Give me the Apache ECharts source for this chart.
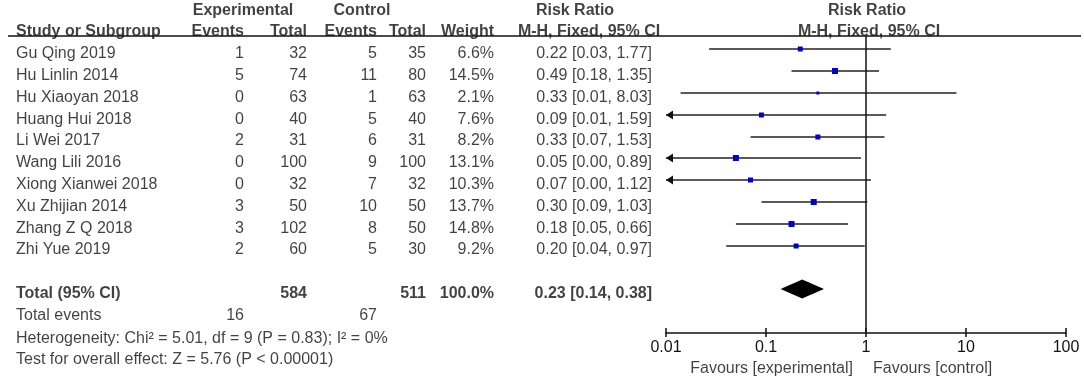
<!DOCTYPE html>
<html>
<head>
<meta charset="utf-8">
<script src="https://cdn.jsdelivr.net/npm/echarts@6/dist/echarts.min.js"></script>
<style>
  html, body { margin: 0; padding: 0; background: #fff; }
  #forest { width: 1084px; height: 381px; }
</style>
</head>
<body>
<div id="forest"></div>
<script>
// study rows
var studies = ["Gu Qing 2019", "Hu Linlin 2014", "Hu Xiaoyan 2018", "Huang Hui 2018", "Li Wei 2017",
  "Wang Lili 2016", "Xiong Xianwei 2018", "Xu Zhijian 2014", "Zhang Z Q 2018", "Zhi Yue 2019"];
var expEvents = [1, 5, 0, 0, 2, 0, 0, 3, 3, 2];
var expTotal = [32, 74, 63, 40, 31, 100, 32, 50, 102, 60];
var ctlEvents = [5, 11, 1, 5, 6, 9, 7, 10, 8, 5];
var ctlTotal = [35, 80, 63, 40, 31, 100, 32, 50, 50, 30];
var weights = [6.6, 14.5, 2.1, 7.6, 8.2, 13.1, 10.3, 13.7, 14.8, 9.2];
var riskRatio = [0.22, 0.49, 0.33, 0.09, 0.33, 0.05, 0.07, 0.30, 0.18, 0.20];
var ciLow = [0.03, 0.18, 0.01, 0.01, 0.07, 0.00, 0.00, 0.09, 0.05, 0.04];   // as printed
var ciHigh = [1.77, 1.35, 8.03, 1.59, 1.53, 0.89, 1.12, 1.03, 0.66, 0.97];
var plotLow = [0.027, 0.18, 0.014, 0.006, 0.07, 0.003, 0.004, 0.09, 0.05, 0.04];

// pooled result
var totalExp = 584, totalCtl = 511;
var eventsExp = 16, eventsCtl = 67;
var pooled = [0.23, 0.14, 0.38]; // estimate, low, high

var tickLabels = ["0.01", "0.1", "1", "10", "100"];

// layout: column anchors (px) and row units
var ROW = 21.8, ROW0 = 49.3, TXT = 4.5;
var col = { study: 16, expEv: 244, expTot: 307, ctlEv: 377, ctlTot: 426, weight: 494, ci: 652 };
var font = "'Liberation Sans', Arial, sans-serif";
var ink = "#111";

function fmt(v) { return v.toFixed(2); }

var leftCells = [], rightCells = [], centerCells = [];
var leftBold = [], rightBold = [], centerBold = [];

studies.forEach(function (s, i) {
  leftCells.push([col.study, i, s]);
  rightCells.push([col.expEv, i, String(expEvents[i])]);
  rightCells.push([col.expTot, i, String(expTotal[i])]);
  rightCells.push([col.ctlEv, i, String(ctlEvents[i])]);
  rightCells.push([col.ctlTot, i, String(ctlTotal[i])]);
  rightCells.push([col.weight, i, weights[i].toFixed(1) + "%"]);
  rightCells.push([col.ci, i, fmt(riskRatio[i]) + " [" + fmt(ciLow[i]) + ", " + fmt(ciHigh[i]) + "]"]);
});

// headers
centerBold.push([243, -2, "Experimental"], [362, -2, "Control"], [575, -2, "Risk Ratio"], [867, -2, "Risk Ratio"]);
leftBold.push([col.study, -1, "Study or Subgroup"]);
rightBold.push([col.expEv, -1, "Events"], [col.expTot, -1, "Total"], [col.ctlEv, -1, "Events"],
  [col.ctlTot, -1, "Total"], [col.weight, -1, "Weight"]);
centerBold.push([589, -1, "M-H, Fixed, 95% CI"], [869, -1, "M-H, Fixed, 95% CI"]);

// totals
leftBold.push([col.study, 11, "Total (95% CI)"]);
rightBold.push([col.expTot, 11, String(totalExp)], [col.ctlTot, 11, String(totalCtl)],
  [col.weight, 11, "100.0%"],
  [col.ci, 11, fmt(pooled[0]) + " [" + fmt(pooled[1]) + ", " + fmt(pooled[2]) + "]"]);
leftCells.push([col.study, 12, "Total events"]);
rightCells.push([col.expEv, 12, String(eventsExp)], [col.ctlEv, 12, String(eventsCtl)]);
leftCells.push([col.study, 13.05, "Heterogeneity: Chi\u00b2 = 5.01, df = 9 (P = 0.83); I\u00b2 = 0%"]);
leftCells.push([col.study, 14.05, "Test for overall effect: Z = 5.76 (P < 0.00001)"]);
rightCells.push([853, 14.45, "Favours [experimental]"]);
leftCells.push([873, 14.45, "Favours [control]"]);

function textSeries(data, align, weight) {
  return {
    type: "scatter", xAxisIndex: 0, yAxisIndex: 0, symbolSize: 0, silent: true,
    data: data,
    label: {
      show: true, position: "inside", align: align, verticalAlign: "middle", offset: [0, TXT],
      formatter: function (p) { return p.data[2]; },
      fontSize: 16, fontWeight: weight, color: ink, fontFamily: font
    },
    emphasis: { disabled: true }
  };
}

var studyData = studies.map(function (s, i) {
  return [plotLow[i], ciHigh[i], riskRatio[i], i, weights[i]];
});

var option = {
  animation: false,
  backgroundColor: "#fff",
  grid: [
    { left: 8, right: 3, top: 0, bottom: 0 },
    { left: 666, width: 400, top: 36, bottom: 48 }
  ],
  xAxis: [
    { gridIndex: 0, type: "value", min: 8, max: 1081, show: false },
    {
      gridIndex: 1, type: "log", logBase: 10, min: 0.01, max: 100, position: "bottom",
      axisLine: { onZero: false, lineStyle: { color: ink, width: 1.5 } },
      axisTick: { length: 4, lineStyle: { color: ink, width: 1.5 } },
      axisLabel: {
        margin: 7, fontSize: 16, color: ink, fontFamily: font,
        formatter: function (v) { return tickLabels[Math.round(Math.log10(v)) + 2]; }
      },
      splitLine: { show: false }
    },
    {
      gridIndex: 1, type: "log", logBase: 10, min: 0.01, max: 100, position: "bottom",
      axisLine: { show: false, onZero: false },
      axisTick: { inside: true, length: 5, lineStyle: { color: ink, width: 1.5 } },
      axisLabel: { show: false },
      splitLine: { show: false }
    }
  ],
  yAxis: [
    { gridIndex: 0, type: "value", inverse: true, min: -ROW0 / ROW, max: (381 - ROW0) / ROW, show: false },
    { gridIndex: 1, type: "value", inverse: true, min: (36 - ROW0) / ROW, max: (333 - ROW0) / ROW, show: false }
  ],
  series: [
    textSeries(leftCells, "left", "normal"),
    textSeries(rightCells, "right", "normal"),
    textSeries(centerCells, "center", "normal"),
    textSeries(leftBold, "left", "bold"),
    textSeries(rightBold, "right", "bold"),
    textSeries(centerBold, "center", "bold"),
    {
      // header rule
      type: "scatter", xAxisIndex: 0, yAxisIndex: 0, data: [], silent: true,
      markLine: {
        symbol: "none", silent: true, label: { show: false },
        lineStyle: { color: ink, width: 1.5, type: "solid" },
        data: [{ yAxis: (36 - ROW0) / ROW }]
      }
    },
    {
      type: "custom", xAxisIndex: 1, yAxisIndex: 1, silent: true,
      data: studyData,
      encode: { x: [0, 1, 2], y: 3 },
      renderItem: function (params, api) {
        var lo = api.value(0), hi = api.value(1), est = api.value(2), row = api.value(3), w = api.value(4);
        var pL = api.coord([Math.max(lo, 0.01), row]);
        var pH = api.coord([hi, row]);
        var pE = api.coord([est, row]);
        var y = Math.round(pL[1]);
        var kids = [{
          type: "line",
          shape: { x1: pL[0], y1: y, x2: pH[0], y2: y },
          style: { stroke: "#222", lineWidth: 1.5 }
        }];
        if (lo < 0.01) {
          kids.push({
            type: "polygon",
            shape: { points: [[pL[0], y], [pL[0] + 7, y - 4.5], [pL[0] + 7, y + 4.5]] },
            style: { fill: "#111" }
          });
        }
        var s = Math.round(2 + Math.sqrt(w));
        kids.push({
          type: "rect",
          shape: { x: pE[0] - s / 2, y: y - s / 2, width: s, height: s },
          style: { fill: "#0000cc" }
        });
        return { type: "group", children: kids };
      },
      markLine: {
        symbol: "none", silent: true, label: { show: false },
        lineStyle: { color: ink, width: 1.5, type: "solid" },
        data: [{ xAxis: 1 }]
      }
    },
    {
      type: "custom", xAxisIndex: 1, yAxisIndex: 1, silent: true,
      data: [[pooled[1], pooled[2], pooled[0], 11]],
      encode: { x: [0, 1, 2], y: 3 },
      renderItem: function (params, api) {
        var pL = api.coord([api.value(0), api.value(3)]);
        var pH = api.coord([api.value(1), api.value(3)]);
        var pE = api.coord([api.value(2), api.value(3)]);
        var h = 9.5;
        return {
          type: "polygon",
          shape: { points: [[pL[0], pL[1]], [pE[0], pE[1] - h], [pH[0], pH[1]], [pE[0], pE[1] + h]] },
          style: { fill: "#000" }
        };
      }
    }
  ]
};

var chart = echarts.init(document.getElementById("forest"));
chart.setOption(option);
</script>
</body>
</html>
